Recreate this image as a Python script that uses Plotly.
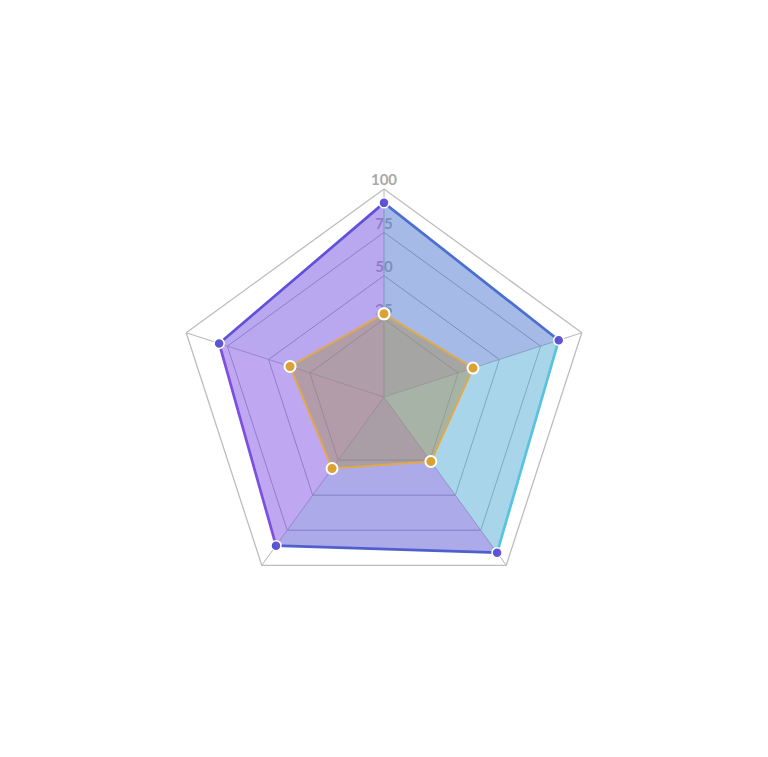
import plotly.graph_objects as go

categories = ['A', 'B', 'C', 'D', 'E']
series_a = [92, 86, 91, 86, 80]
series_b = [28, 34, 26, 31, 37]
tick_values = [25, 50, 75, 100]
tick_labels = ['25', '50', '75', '100']

# series A has a left-to-right purple -> cyan gradient; scatterpolar has no
# fillgradient, so every wedge (centre, point i, point i+1) gets its own tint
wedge_colors = ['rgba(75,118,205,0.5)', 'rgba(84,172,214,0.5)',
                'rgba(89,85,211,0.5)', 'rgba(129,79,229,0.5)',
                'rgba(115,81,225,0.5)']
edge_colors = ['#4a6fd0', '#58c3df', '#4f5fcc', '#7c4fe0', '#6150d8']

r_min = -20


def closed(values):
    return values + values[:1]


fig = go.Figure()

# radial tick labels, drawn first so the fills sit on top of them
fig.add_trace(go.Scatterpolar(
    r=tick_values, theta=[categories[0]] * len(tick_values),
    mode='text', text=tick_labels, textposition='top center',
    textfont=dict(family='Lato', size=15, color='#a9a9a9', weight='bold'),
    hoverinfo='skip'))

n = len(categories)
for i in range(n):
    j = (i + 1) % n
    fig.add_trace(go.Scatterpolar(
        r=[r_min, series_a[i], series_a[j], r_min],
        theta=[categories[i], categories[i], categories[j], categories[i]],
        mode='lines', fill='toself', fillcolor=wedge_colors[i],
        line=dict(width=0), hoverinfo='skip'))

for i in range(n):
    j = (i + 1) % n
    fig.add_trace(go.Scatterpolar(
        r=[series_a[i], series_a[j]], theta=[categories[i], categories[j]],
        mode='lines', line=dict(color=edge_colors[i], width=2.7),
        hoverinfo='skip'))

fig.add_trace(go.Scatterpolar(
    r=series_a, theta=categories, mode='markers',
    marker=dict(size=10, color='#4b57cf',
                gradient=dict(type='horizontal', color='#7050dc'),
                line=dict(color='white', width=1.5)),
    name='Series A'))

fig.add_trace(go.Scatterpolar(
    r=closed(series_b), theta=closed(categories),
    mode='lines+markers', fill='toself',
    fillcolor='rgba(166,145,98,0.5)',
    line=dict(color='#e0a94a', width=2),
    marker=dict(size=11, color='#d9a233', line=dict(color='white', width=2)),
    name='Series B'))

fig.update_layout(
    width=768, height=757,
    margin=dict(l=0, r=0, t=0, b=0),
    paper_bgcolor='white',
    showlegend=False,
    polar=dict(
        domain=dict(x=[168 / 768, 584 / 768], y=[160 / 757, 576 / 757]),
        bgcolor='white',
        gridshape='linear',
        radialaxis=dict(range=[r_min, 100], tickvals=tick_values,
                        showticklabels=False, ticks='', showline=False,
                        gridcolor='#a9a9ae', gridwidth=1.2),
        angularaxis=dict(rotation=90, direction='clockwise',
                         showticklabels=False, ticks='',
                         gridcolor='#b4b4b8', gridwidth=1.2,
                         linecolor='#bdbdbd', linewidth=1.3),
    ),
)

fig.write_html('out.html')
